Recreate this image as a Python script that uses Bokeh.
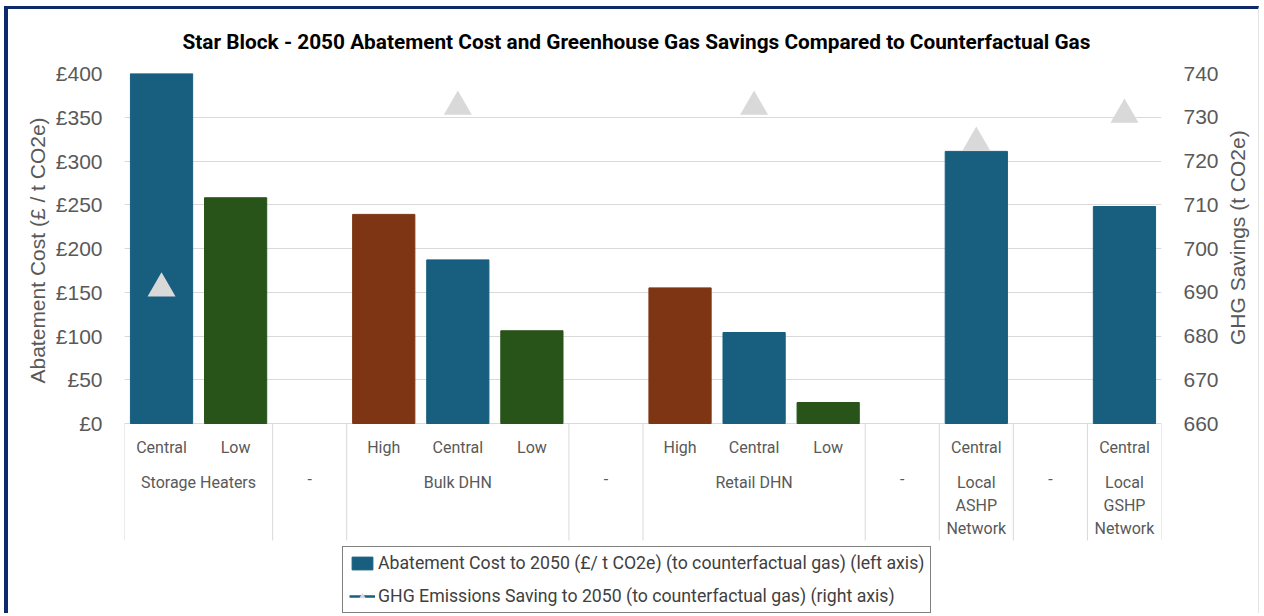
import math
import numpy as np
from bokeh.plotting import figure
from bokeh.models import (FactorRange, Range1d, LinearAxis, FixedTicker, PrintfTickFormatter,
                          ColumnDataSource, Legend, LegendItem, Title)
from bokeh.core.properties import value
from bokeh.embed import file_html
from bokeh.resources import INLINE

# ---------------- data ----------------
title = "Star Block - 2050 Abatement Cost and Greenhouse Gas Savings Compared to Counterfactual Gas"
groups = ["Storage Heaters", "-", "Bulk DHN", "-", "Retail DHN", "-",
          "Local\nASHP\nNetwork", "-", "Local\nGSHP\nNetwork"]
scenarios = [["Central", "Low"], [""], ["High", "Central", "Low"], [""],
             ["High", "Central", "Low"], [""], ["Central"], [""], ["Central"]]
abatement_cost = [[400, 258], [None], [239, 187, 106], [None],
                  [155, 104, 24], [None], [311], [None], [248]]
ghg_savings = [[690.9, None], [None], [None, 732.4, None], [None],
               [None, 732.4, None], [None], [724.2], [None], [730.6]]
scenario_colors = {"High": "#7E3513", "Central": "#175E7F", "Low": "#285319"}
cost_ticks = [0, 50, 100, 150, 200, 250, 300, 350, 400]
ghg_ticks = [660, 670, 680, 690, 700, 710, 720, 730, 740]
cost_axis_label = "Abatement Cost (£ / t CO2e)"
ghg_axis_label = "GHG Savings (t CO2e)"
legend_cost = "Abatement Cost to 2050 (£/ t CO2e) (to counterfactual gas) (left axis)"
legend_ghg = "GHG Emissions Saving to 2050 (to counterfactual gas) (right axis)"

# ---------------- layout constants (page pixels) ----------------
OX, OY = 8, 9                 # canvas origin on the page (after chart border)
CW, CH = 1264 - OX - 1, 616 - OY
FL, FR, FT, FB = 124, 1161, 73, 616
Y0 = 423                      # page row of zero
PX = (Y0 - FT) / cost_ticks[-1]
def px_to_cost(py):
    return -(py - Y0) / PX

cost_lo = px_to_cost(FB)
ratio = (cost_ticks[-1] - cost_ticks[0]) / (ghg_ticks[-1] - ghg_ticks[0])
ghg_lo = ghg_ticks[0] + cost_lo / ratio

LBL = "Roboto"
AXIS_FONT = "Liberation Sans"
GREY = "#595959"

# ---------------- factors ----------------
keys, sub_labels = [], []
bar_x, bar_top, bar_col = [], [], []
g_x, g_y = [], []
grp_first = []
for gi, (g, subs) in enumerate(zip(groups, scenarios)):
    first = None
    for si, s in enumerate(subs):
        k = f"{gi}:{s}"
        keys.append(k)
        sub_labels.append(s)
        if first is None:
            first = k
        v = abatement_cost[gi][si]
        if v is not None:
            bar_x.append(k)
            bar_top.append(v)
            bar_col.append(scenario_colors[s])
        gv = ghg_savings[gi][si]
        g_x.append(k)
        g_y.append(np.nan if gv is None else gv)
    grp_first.append((first, len(subs)))

p = figure(width=CW, height=CH, x_range=FactorRange(factors=keys),
           y_range=Range1d(cost_lo, cost_ticks[-1]),
           output_backend="svg", toolbar_location=None, x_axis_location=None,
           min_border_left=FL - OX, min_border_right=CW - (FR - OX),
           min_border_top=FT - OY, min_border_bottom=0)
p.styles = {"margin-left": "4px", "margin-top": "6px",
            "border-left": "4px solid #0E2A6B", "border-top": "3px solid #0E2A6B",
            "border-right": "1px solid #E4E4E4"}
p.extra_y_ranges = {"ghg": Range1d(ghg_lo, ghg_ticks[-1])}
p.outline_line_color = None
p.background_fill_color = "white"
p.border_fill_color = "white"
p.xgrid.visible = False
p.ygrid.ticker = FixedTicker(ticks=cost_ticks)
p.ygrid.grid_line_color = "#D9D9D9"
p.ygrid.grid_line_width = 1

# title
p.title = Title(text=title, align="left", offset=182 - FL, standoff=36, vertical_align="top",
                text_font=LBL, text_font_style="bold", text_font_size="20.8px",
                text_color="#000000")

la = p.yaxis[0]
la.ticker = FixedTicker(ticks=cost_ticks)
la.formatter = PrintfTickFormatter(format="£%d")
ra = LinearAxis(y_range_name="ghg", ticker=FixedTicker(ticks=ghg_ticks),
                axis_label=ghg_axis_label, axis_label_orientation=math.pi / 2,
                axis_label_standoff=16, axis_label_text_font=AXIS_FONT,
                axis_label_text_font_size="21px", axis_label_text_font_style="normal",
                axis_label_text_color=GREY)
p.add_layout(ra, "right")
for ax in (la, ra):
    ax.axis_line_color = None
    ax.major_tick_line_color = None
    ax.minor_tick_line_color = None
    ax.major_tick_out = 0
    ax.major_tick_in = 0
    ax.major_label_text_font = AXIS_FONT
    ax.major_label_text_font_size = "21px"
    ax.major_label_text_color = GREY
    ax.major_label_standoff = 22

# left axis title, placed along the £0-£400 span
p.add_layout(Title(text=cost_axis_label, align="left", offset=FB - 383,
                   standoff=8, text_font=AXIS_FONT, text_font_style="normal",
                   text_font_size="21px", text_color=GREY), "left")

# bars
bsrc = ColumnDataSource(dict(x=bar_x, top=bar_top, color=bar_col))
bars = p.vbar(x="x", top="top", bottom=0, width=0.84, source=bsrc,
              fill_color="color", line_color="color")

# GHG series (line broken by gaps, markers only visible)
gsrc = ColumnDataSource(dict(x=g_x, y=np.array(g_y, dtype=float)))
gline = p.line(x="x", y="y", source=gsrc, y_range_name="ghg",
               line_color="#175E7F", line_width=2.5)
gpts = p.scatter(x="x", y="y", source=gsrc, y_range_name="ghg", marker="triangle",
                 size=28, fill_color="#D9D9D9", line_color=None)

# category labels (sub level)
ssrc = ColumnDataSource(dict(x=keys, y=[px_to_cost(447)] * len(keys), t=sub_labels))
p.text(x="x", y="y", text="t", source=ssrc, text_font=value(LBL), text_font_size="16px",
       text_color=GREY, text_align="center", text_baseline="middle")

# group labels
gl_x = [(f, (n - 1) / 2) for f, n in grp_first]
glsrc = ColumnDataSource(dict(x=gl_x, y=[px_to_cost(472)] * len(groups), t=groups))
p.text(x="x", y="y", text="t", source=glsrc, text_font=value(LBL), text_font_size="16px",
       text_color=GREY, text_align="center", text_baseline="top", text_line_height=1.22)

# separators
sep_x = [(f, -0.5) for f, n in grp_first] + [(keys[-1], 0.5)]
sepsrc = ColumnDataSource(dict(x=sep_x, y0=[0] * len(sep_x), y1=[px_to_cost(540)] * len(sep_x)))
p.segment(x0="x", y0="y0", x1="x", y1="y1", source=sepsrc, line_color="#D9D9D9", line_width=1)

# legend
legend = Legend(items=[LegendItem(label=legend_cost, renderers=[bars], index=0),
                       LegendItem(label=legend_ghg, renderers=[gline, gpts])],
                location=(342 - FL, FB - 613), orientation="vertical",
                border_line_color="#000000", border_line_width=1.5,
                label_text_font=LBL, label_text_font_size="17.7px", label_text_color="#404040",
                glyph_width=26, glyph_height=16, label_standoff=3, spacing=13, padding=6,
                margin=0, background_fill_color="white", background_fill_alpha=1)
p.add_layout(legend)

open("out.html", "w").write(file_html(p, INLINE))
